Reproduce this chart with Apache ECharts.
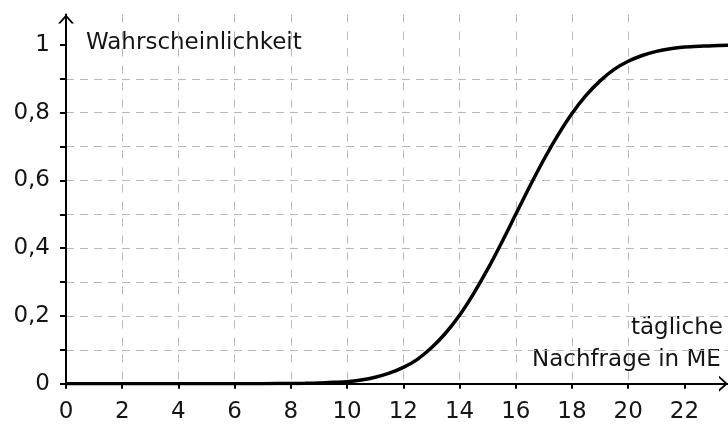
<!DOCTYPE html>
<html>
<head>
<meta charset="utf-8">
<script src="https://cdn.jsdelivr.net/npm/echarts@6/dist/echarts.min.js"></script>
<style>
  html, body { margin: 0; padding: 0; background: #fff; }
  #chart { width: 728px; height: 424px; }
</style>
</head>
<body>
<div id="chart"></div>
<script>
// Nachfrage (x) und Wahrscheinlichkeit (y)
var nachfrage = [0, 2, 4, 6, 7, 8, 8.5, 9, 9.5, 10, 10.5, 11, 11.5, 12, 12.5, 13, 13.5, 14, 14.5, 15, 15.5, 16,
  16.5, 17, 17.5, 18, 18.5, 19, 19.5, 20, 20.5, 21, 21.5, 22, 22.5, 23, 23.55]
var wahrscheinlichkeit = [0, 0, 0, 0, 0.0002, 0.0004, 0.001, 0.002, 0.004, 0.006, 0.011, 0.019, 0.031, 0.048, 0.072, 0.106,
  0.149, 0.202, 0.266, 0.338, 0.417, 0.5, 0.583, 0.662, 0.734, 0.798, 0.851, 0.894, 0.928, 0.952, 0.969, 0.981, 0.989,
  0.994, 0.996, 0.998, 0.999]
var xLabels = [0, 2, 4, 6, 8, 10, 12, 14, 16, 18, 20, 22]
var yTicks = [0, 0.1, 0.2, 0.3, 0.4, 0.5, 0.6, 0.7, 0.8, 0.9, 1]
var yLabels = [0, 0.2, 0.4, 0.6, 0.8, 1]

var font = "DejaVu Sans"
var textColor = "#151515"
var gridColor = "#b8b8b8"
// offener Pfeil an den Achsenenden
var arrow = "path://M0,9 L8,0 L16,9 L13.6,9 L8,2.8 L2.4,9 Z"

var myChart = echarts.init(document.getElementById("chart"))

var points = nachfrage.map(function (x, i) {
  return [x, wahrscheinlichkeit[i]]
})

var option = {
  animation: false,
  grid: {
    left: 66,
    right: 0,
    top: 14.5,
    bottom: 40.3
  },
  xAxis: {
    type: "value",
    min: 0,
    max: 23.55,
    interval: 1,
    axisLine: {
      lineStyle: { color: "#000", width: 2 },
      symbol: ["none", arrow],
      symbolSize: [16, 9],
      symbolOffset: [0, -4.5]
    },
    axisTick: {
      show: true,
      length: 5,
      customValues: xLabels,
      lineStyle: { color: "#000", width: 2 }
    },
    axisLabel: {
      customValues: xLabels,
      margin: 17,
      fontFamily: font,
      fontSize: 23,
      color: textColor,
      formatter: function (v) {
        return v % 2 === 0 ? String(v) : ""
      }
    },
    splitLine: {
      show: true,
      showMinLine: false,
      showMaxLine: false,
      lineStyle: { color: gridColor, width: 1, type: [8, 9] }
    }
  },
  yAxis: {
    type: "value",
    min: 0,
    max: 1.09,
    interval: 0.1,
    axisLine: {
      show: true,
      lineStyle: { color: "#000", width: 2 },
      symbol: ["none", arrow],
      symbolSize: [16, 9],
      symbolOffset: [0, -4.5]
    },
    axisTick: {
      show: true,
      length: 6,
      customValues: yTicks,
      lineStyle: { color: "#000", width: 2 }
    },
    axisLabel: {
      customValues: yLabels,
      margin: 16,
      fontFamily: font,
      fontSize: 23,
      color: textColor,
      formatter: function (v) {
        return String(Math.round(v * 10) / 10).replace(".", ",")
      }
    },
    splitLine: {
      show: true,
      showMinLine: false,
      showMaxLine: false,
      lineStyle: { color: gridColor, width: 1, type: [8, 6] }
    }
  },
  graphic: [
    {
      type: "text",
      x: 84,
      y: 43,
      style: {
        text: "Wahrscheinlichkeit",
        fontFamily: font,
        fontSize: 23,
        fill: textColor,
        verticalAlign: "middle",
        backgroundColor: "#fff",
        padding: [0, 2]
      }
    },
    {
      type: "text",
      x: 629,
      y: 328,
      style: {
        text: "tägliche",
        fontFamily: font,
        fontSize: 23,
        fill: textColor,
        verticalAlign: "middle",
        backgroundColor: "#fff",
        padding: [0, 2]
      }
    },
    {
      type: "text",
      x: 530,
      y: 360,
      style: {
        text: "Nachfrage in ME",
        fontFamily: font,
        fontSize: 23,
        fill: textColor,
        verticalAlign: "middle",
        backgroundColor: "#fff",
        padding: [0, 2]
      }
    }
  ],
  series: [
    {
      type: "line",
      data: points,
      smooth: 0.3,
      showSymbol: false,
      lineStyle: { color: "#000", width: 3.5 },
      z: 3
    }
  ]
}

myChart.setOption(option)
</script>
</body>
</html>
